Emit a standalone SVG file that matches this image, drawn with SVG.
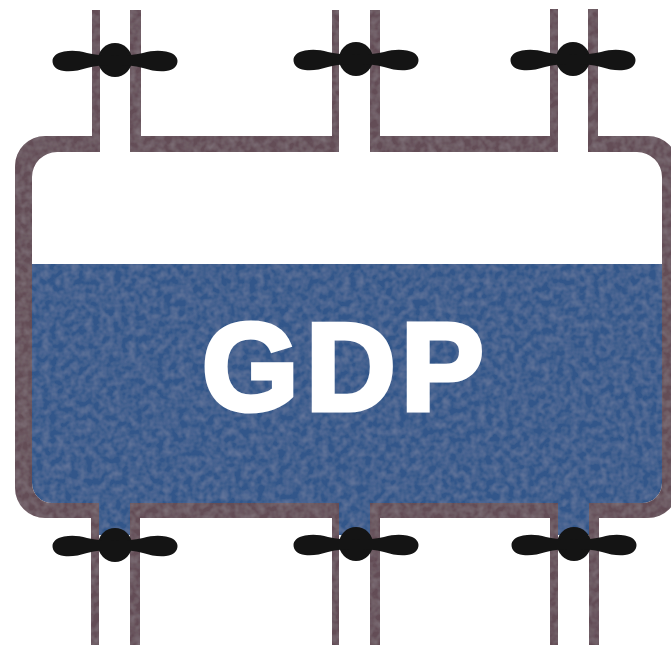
<svg xmlns="http://www.w3.org/2000/svg" width="671" height="646" viewBox="0 0 671 646">
  <defs>
    <style>
      .wall { fill: #644d56; }
      .water { fill: #33578a; }
      .valve { fill: #141414; }
      .label { font-family: "Liberation Sans", Arial, sans-serif; font-weight: 700; font-size: 124px; fill: #fff; stroke: #fff; stroke-width: 5; stroke-linejoin: miter; }
    </style>
    <filter id="scan" x="0" y="0" width="100%" height="100%" filterUnits="objectBoundingBox">
      <feTurbulence type="fractalNoise" baseFrequency="0.14" numOctaves="2" seed="4" result="n"/>
      <feColorMatrix in="n" type="matrix" values="0 0 0 0 0.85  0 0 0 0 0.85  0 0 0 0 0.9  0.18 0 0 0 -0.055" result="m"/>
      <feComposite in="m" in2="SourceAlpha" operator="in" result="c"/>
      <feMerge><feMergeNode in="SourceGraphic"/><feMergeNode in="c"/></feMerge>
    </filter>
    <g id="valve-shape">
      <circle cx="0" cy="0" r="17"/>
      <path d="M0,-5 C-8,-4.500 -18,-4.500 -28,-7 C-36,-9.500 -44,-10 -51,-8.500 C-59,-7 -62.500,-3 -62.500,1 C-62.500,6 -59,10 -51,11 C-44,12 -36,10.500 -28,8 C-20,5.500 -8,5 0,5 C8,5 20,5.500 28,8 C36,10.500 44,12 51,11 C59,10 62.500,6 62.500,1 C62.500,-3 59,-7 51,-8.500 C44,-10 36,-9.500 28,-7 C18,-4.500 8,-4.500 0,-5 Z"/>
    </g>
  </defs>
  <rect width="671" height="646" fill="#fff"/>
  <g id="tank" filter="url(#scan)">
    <path class="water" d="M32,264 H662 V483 A20,20 0 0 1 642,503 H589 V535 H558 V503 H370 V535 H339 V503 H130 V535 H99 V503 H52 A20,20 0 0 1 32,483 Z"/>
  </g>
  <g id="pipes" filter="url(#scan)">
    <path class="wall" d="M92,10 H100 V152 H57 A25,25 0 0 0 32,177 V483 A20,20 0 0 0 52,503 H99 V645 H91 V518 H45 A30,30 0 0 1 15,488 V166 A30,30 0 0 1 45,136 H92 Z"/>
    <path class="wall" d="M130,10 H141 V136 H332 V10 H339 V152 H130 Z"/>
    <path class="wall" d="M370,10 H380 V136 H550 V9 H558 V152 H370 Z"/>
    <path class="wall" d="M588,9 H598 V136 H648 A30,30 0 0 1 678,166 V488 A30,30 0 0 1 648,518 H599 V645 H589 V503 H642 A20,20 0 0 0 662,483 V177 A25,25 0 0 0 637,152 H588 Z"/>
    <path class="wall" d="M130,645 V503 H339 V645 H332 V518 H140 V645 Z"/>
    <path class="wall" d="M370,645 V503 H558 V645 H550 V518 H380 V645 Z"/>
  </g>
  <g id="valve-top-1" class="valve"><use href="#valve-shape" x="115" y="60"/></g>
  <g id="valve-top-2" class="valve"><use href="#valve-shape" x="356" y="59"/></g>
  <g id="valve-top-3" class="valve"><use href="#valve-shape" x="573" y="59"/></g>
  <g id="valve-bottom-1" class="valve"><use href="#valve-shape" x="115" y="545"/></g>
  <g id="valve-bottom-2" class="valve"><use href="#valve-shape" x="356" y="544"/></g>
  <g id="valve-bottom-3" class="valve"><use href="#valve-shape" x="574" y="544"/></g>
  <g id="gdp-label">
    <text class="label" x="202 306 401" y="410">GDP</text>
  </g>
</svg>
